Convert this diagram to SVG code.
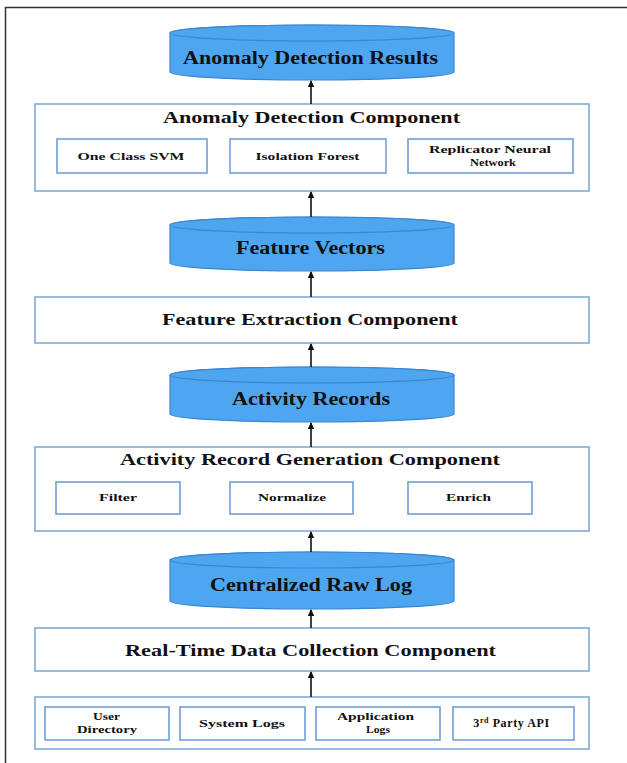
<svg xmlns="http://www.w3.org/2000/svg" width="627" height="763" viewBox="0 0 627 763">
<defs>
<marker id="ah" markerWidth="8" markerHeight="8" refX="6" refY="4" orient="auto" markerUnits="userSpaceOnUse">
<path d="M0,0.8 L7,4 L0,7.2 Z" fill="#111"/>
</marker>
<style>
.cyl{fill:#4ea5f0;stroke:#3a86cf;stroke-width:1.2}
.box{fill:#fff;stroke:#8fb4dd;stroke-width:1.8}
.sub{fill:#fff;stroke:#7fa9d9;stroke-width:1.8}
.t{font-family:"Liberation Serif","Times New Roman",serif;font-weight:bold;fill:#111;text-anchor:middle}
.big{font-size:18px}
.mid{font-size:16px}
.sm{font-size:11px}
.con{stroke:#111;stroke-width:1.6;fill:none}
</style>
</defs>
<rect width="627" height="763" fill="#fff"/>
<path d="M5.5,763 V7.5 H627" fill="none" stroke="#333" stroke-width="1.5"/>

<g id="anomaly-results">
<path class="cyl" d="M170,33 A142,8 0 0 1 454,33 V72 A142,8 0 0 1 170,72 Z"/>
<ellipse class="cyl" cx="312" cy="33" rx="142" ry="8"/>
<text class="t big" x="310.5" y="64" textLength="255" lengthAdjust="spacingAndGlyphs">Anomaly Detection Results</text>
</g>

<g id="anomaly-component">
<rect class="box" x="35" y="104" width="554" height="87"/>
<text class="t mid" x="311.5" y="123" textLength="297" lengthAdjust="spacingAndGlyphs">Anomaly Detection Component</text>
<g id="ocsvm"><rect class="sub" x="57" y="139" width="150" height="34"/>
<text class="t sm" x="131" y="160" textLength="107" lengthAdjust="spacingAndGlyphs">One Class SVM</text></g>
<g id="iforest"><rect class="sub" x="230" y="139" width="156" height="34"/>
<text class="t sm" x="307.5" y="160" textLength="104" lengthAdjust="spacingAndGlyphs">Isolation Forest</text></g>
<g id="rnn"><rect class="sub" x="408" y="139" width="165" height="34"/>
<text class="t sm" x="490" y="153" textLength="122" lengthAdjust="spacingAndGlyphs">Replicator  Neural</text>
<text class="t sm" x="493" y="166" textLength="46" lengthAdjust="spacingAndGlyphs">Network</text></g>
</g>

<g id="feature-vectors">
<path class="cyl" d="M170,225 A142,8 0 0 1 454,225 V263 A142,8 0 0 1 170,263 Z"/>
<ellipse class="cyl" cx="312" cy="225" rx="142" ry="8"/>
<text class="t big" x="310.5" y="254" textLength="149" lengthAdjust="spacingAndGlyphs">Feature Vectors</text>
</g>

<g id="feature-extraction">
<rect class="box" x="35" y="297" width="554" height="46"/>
<text class="t mid" x="310" y="325" textLength="296" lengthAdjust="spacingAndGlyphs">Feature Extraction Component</text>
</g>

<g id="activity-records">
<path class="cyl" d="M170,375 A142,8 0 0 1 454,375 V414 A142,8 0 0 1 170,414 Z"/>
<ellipse class="cyl" cx="312" cy="375" rx="142" ry="8"/>
<text class="t big" x="311" y="405" textLength="158" lengthAdjust="spacingAndGlyphs">Activity Records</text>
</g>

<g id="activity-generation">
<rect class="box" x="35" y="447" width="554" height="84"/>
<text class="t mid" x="310" y="465" textLength="380" lengthAdjust="spacingAndGlyphs">Activity Record Generation Component</text>
<g id="filter"><rect class="sub" x="56" y="482" width="124" height="32"/>
<text class="t sm" x="118" y="501" textLength="38" lengthAdjust="spacingAndGlyphs">Filter</text></g>
<g id="normalize"><rect class="sub" x="230" y="482" width="123" height="32"/>
<text class="t sm" x="292" y="501" textLength="68" lengthAdjust="spacingAndGlyphs">Normalize</text></g>
<g id="enrich"><rect class="sub" x="408" y="482" width="124" height="32"/>
<text class="t sm" x="468.5" y="501" textLength="45" lengthAdjust="spacingAndGlyphs">Enrich</text></g>
</g>

<g id="raw-log">
<path class="cyl" d="M170,560 A142,8 0 0 1 454,560 V601 A142,8 0 0 1 170,601 Z"/>
<ellipse class="cyl" cx="312" cy="560" rx="142" ry="8"/>
<text class="t big" x="311" y="591" textLength="202" lengthAdjust="spacingAndGlyphs">Centralized Raw Log</text>
</g>

<g id="data-collection">
<rect class="box" x="35" y="628" width="554" height="43"/>
<text class="t mid" x="310.5" y="656" textLength="371" lengthAdjust="spacingAndGlyphs">Real-Time Data Collection Component</text>
</g>

<g id="sources">
<rect class="box" x="35" y="697" width="554" height="52"/>
<g id="user-directory"><rect class="sub" x="45" y="707" width="124" height="33"/>
<text class="t sm" x="106.5" y="720" textLength="27" lengthAdjust="spacingAndGlyphs">User</text>
<text class="t sm" x="107" y="733" textLength="60" lengthAdjust="spacingAndGlyphs">Directory</text></g>
<g id="system-logs"><rect class="sub" x="180" y="707" width="125" height="33"/>
<text class="t sm" x="242" y="727" textLength="86" lengthAdjust="spacingAndGlyphs">System Logs</text></g>
<g id="application-logs"><rect class="sub" x="316" y="707" width="124" height="33"/>
<text class="t sm" x="375.5" y="720" textLength="77" lengthAdjust="spacingAndGlyphs">Application</text>
<text class="t sm" x="378" y="733" textLength="24" lengthAdjust="spacingAndGlyphs">Logs</text></g>
<g id="third-party-api"><rect class="sub" x="453" y="707" width="121" height="33"/>
<text class="t" font-size="12" x="511.5" y="727" letter-spacing="0.6">3<tspan font-size="8" dy="-4">rd</tspan><tspan dy="4"> Party  API</tspan></text></g>
</g>

<g id="connectors">
<line class="con" x1="311" y1="104" x2="311" y2="81" marker-end="url(#ah)"/>
<line class="con" x1="311" y1="217" x2="311" y2="192" marker-end="url(#ah)"/>
<line class="con" x1="311" y1="297" x2="311" y2="272" marker-end="url(#ah)"/>
<line class="con" x1="311" y1="367" x2="311" y2="344" marker-end="url(#ah)"/>
<line class="con" x1="311" y1="447" x2="311" y2="423" marker-end="url(#ah)"/>
<line class="con" x1="311" y1="552" x2="311" y2="532" marker-end="url(#ah)"/>
<line class="con" x1="311" y1="628" x2="311" y2="610" marker-end="url(#ah)"/>
<line class="con" x1="311" y1="697" x2="311" y2="672" marker-end="url(#ah)"/>
</g>
</svg>
